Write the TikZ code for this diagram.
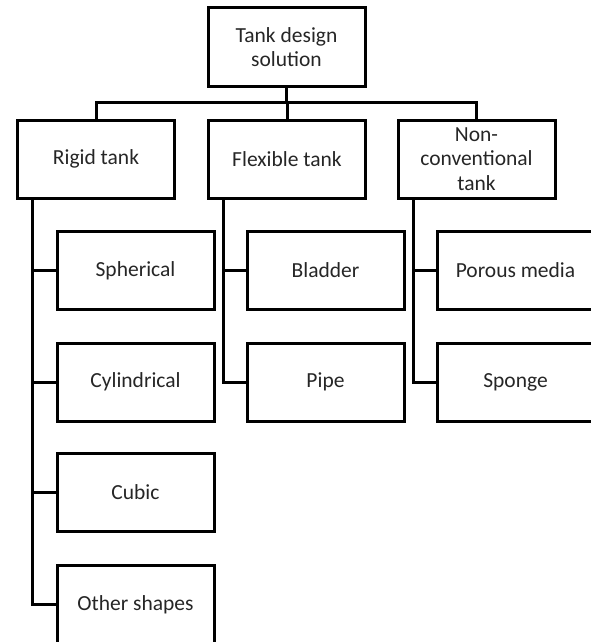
\documentclass[tikz,border=0pt]{standalone}
\usepackage{fontspec}
\setmainfont{Carlito}
\begin{document}
\begin{tikzpicture}[x=1pt,y=-1pt,
  box/.style={draw=black, line width=3pt, minimum width=157pt, minimum height=78pt,
    inner sep=2pt, align=center, text=black!85,
    font=\fontsize{21.5pt}{24.5pt}\selectfont},
  link/.style={draw=black, line width=3pt}]
\useasboundingbox (0,0) rectangle (591,642);
\fill[white] (0,0) rectangle (591,642);
\node[box] (top) at (286.5,47) {Tank design\\solution};
\node[box] (rigid) at (96,159) {Rigid tank};
\node[box] (flex) at (287,159) {Flexible tank};
\node[box] (noncon) at (476.5,159) {Non-\\conventional\\tank};
\node[box] (sph) at (135.5,270.5) {Spherical};
\node[box] (cyl) at (135.5,382) {Cylindrical};
\node[box] (cub) at (135.5,492.5) {Cubic};
\node[box] (oth) at (135.5,604.5) {Other shapes};
\node[box] (bla) at (325.5,270.5) {Bladder};
\node[box] (pip) at (325.5,382) {Pipe};
\node[box] (por) at (515.5,270.5) {Porous media};
\node[box] (spo) at (515.5,382) {Sponge};
\coordinate (bus) at (0,102);
\coordinate (rs) at ([xshift=16pt]rigid.south west);
\coordinate (fs) at ([xshift=16pt]flex.south west);
\coordinate (ns) at ([xshift=17pt]noncon.south west);
\draw[link] (top.south) -- (top.south |- bus);
\draw[link] (rigid.north) -- (rigid.north |- bus) -| (noncon.north);
\draw[link] (flex.north) -- (flex.north |- bus);
\draw[link] (rs) |- (oth.west);
\draw[link] (sph.west) -- (sph.west -| rs);
\draw[link] (cyl.west) -- (cyl.west -| rs);
\draw[link] (cub.west) -- (cub.west -| rs);
\draw[link] (fs) |- (pip.west);
\draw[link] (bla.west) -- (bla.west -| fs);
\draw[link] (ns) |- (spo.west);
\draw[link] (por.west) -- (por.west -| ns);
\end{tikzpicture}
\end{document}
